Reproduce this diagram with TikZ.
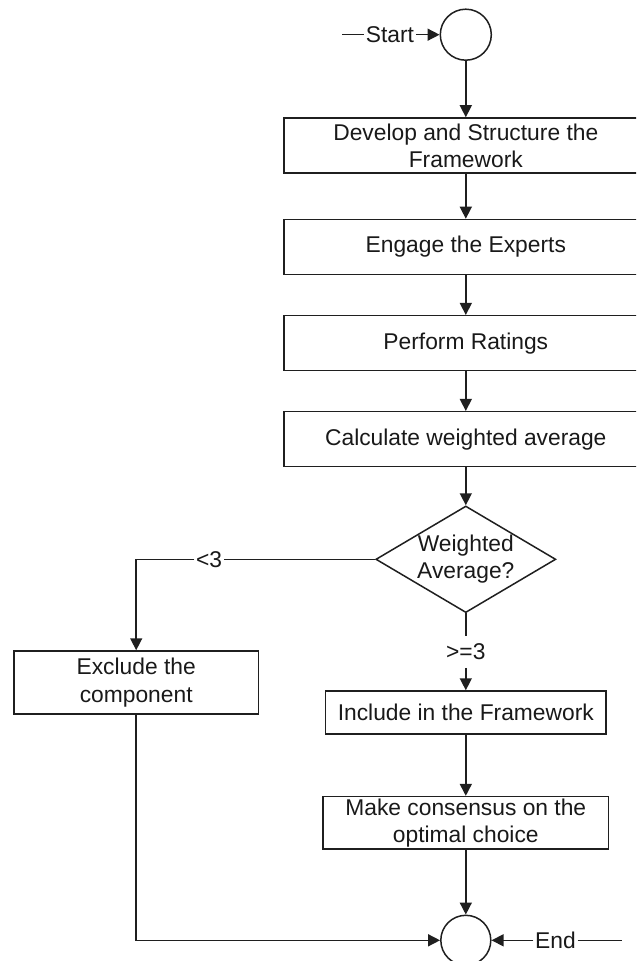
\documentclass[tikz,border=0pt]{standalone}
\usepackage{fontspec}
\setmainfont{Liberation Sans}
\usetikzlibrary{arrows.meta,shapes.geometric}
\begin{document}
\begin{tikzpicture}[x=0.5pt,y=-0.5pt,
  font=\fontsize{11.4pt}{13.6pt}\selectfont,
  line width=0.75pt, draw=black!88, text=black!90,
  box/.style={draw, rectangle, inner sep=0pt, align=center},
  circ/.style={draw, circle, inner sep=0pt},
  arr/.style={-{Triangle[length=6pt,width=6pt]}},
  lbl/.style={fill=white, inner sep=0.5pt}
]
\useasboundingbox (0,0) rectangle (636,961);
\clip (0,0) rectangle (636,961);

% start / end terminals
\node[circ, minimum size=25.5pt] (sc) at (465.8,34.7) {};
\node[inner sep=0.5pt] (st) at (390,34.7) {Start};
\coordinate (s0) at (342,34.7);

% upper process boxes
\node[box, minimum width=182pt, minimum height=27.5pt] (b1) at (465.8,145.5) {Develop and Structure the\\Framework};
\node[box, minimum width=182pt, minimum height=27.5pt] (b2) at (465.8,247) {Engage the Experts};
\node[box, minimum width=182pt, minimum height=27.5pt] (b3) at (465.8,343.2) {Perform Ratings};
\node[box, minimum width=182pt, minimum height=27.5pt] (b4) at (465.8,439.2) {Calculate weighted average};

% decision
\node[draw, diamond, aspect=1.69, inner sep=0pt, minimum width=90pt, minimum height=53.3pt, align=center] (dia) at (465.8,559.3) {Weighted\\Average?};

% branches
\node[lbl] (lt) at (209,559.3) {<3};
\node[box, minimum width=122.2pt, minimum height=31.5pt] (excl) at (136.2,682.5) {Exclude the\\component};
\node[lbl, inner ysep=3.5pt] (ge) at (465.8,652) {>=3};
\node[box, minimum width=140.3pt, minimum height=21.5pt] (incl) at (465.8,712.5) {Include in the Framework};
\node[box, minimum width=142.7pt, minimum height=26.2pt] (cons) at (465.8,822.8) {Make consensus on the\\optimal choice};

\node[circ, minimum size=25pt] (ec) at (465.8,940.3) {};
\node[inner sep=0.5pt] (et) at (555.5,940.3) {End};
\coordinate (e1) at (622,940.3);

% connectors
\draw (s0) -- (st.west);
\draw[arr] (st.east) -- (sc.west);
\draw[arr] (sc.south) -- (b1.north);
\draw[arr] (b1.south) -- (b2.north);
\draw[arr] (b2.south) -- (b3.north);
\draw[arr] (b3.south) -- (b4.north);
\draw[arr] (b4.south) -- (dia.north);
\draw (dia.west) -- (lt.east);
\draw[arr] (lt.west) -| (excl.north);
\draw (dia.south) -- (ge.north);
\draw[arr] (ge.south) -- (incl.north);
\draw[arr] (incl.south) -- (cons.north);
\draw[arr] (cons.south) -- (ec.north);
\draw[arr] (excl.south) |- (ec.west);
\draw[arr] (et.west) -- (ec.east);
\draw (et.east) -- (e1);
\end{tikzpicture}
\end{document}
